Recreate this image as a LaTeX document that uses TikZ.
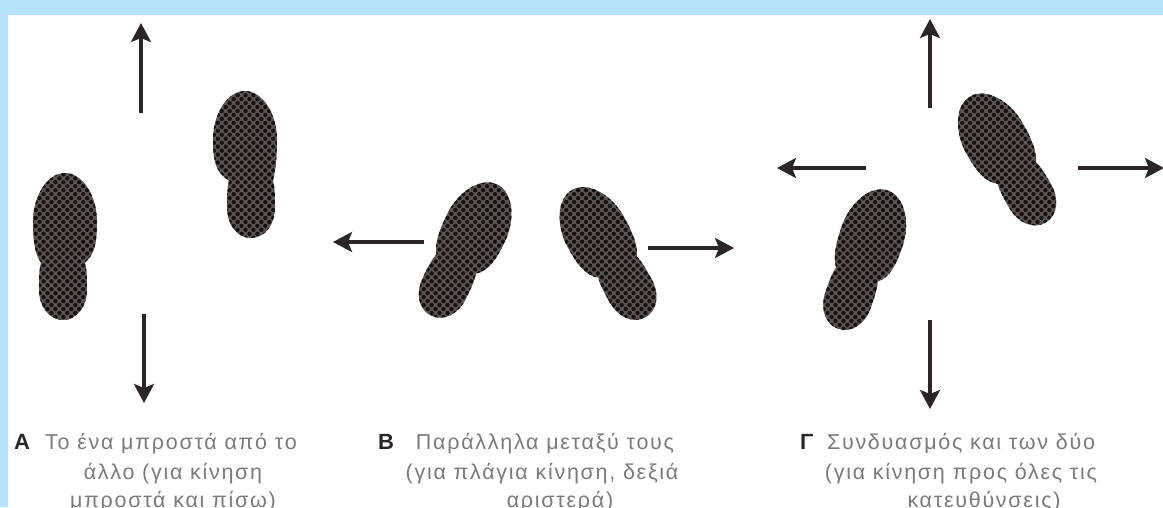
\documentclass[tikz,border=0pt]{standalone}
\usepackage{fontspec}
\setmainfont{Liberation Sans}
\usetikzlibrary{arrows.meta,patterns.meta}
\definecolor{skyband}{HTML}{B5E3FA}
\definecolor{inkdark}{HTML}{2B2527}
\definecolor{soleface}{HTML}{5E5454}
\definecolor{dotink}{HTML}{141213}
\definecolor{capgrey}{HTML}{7A7A7A}
\newfontfamily\capfont[LetterSpace=8]{Liberation Sans}
\tikzset{
  x=1pt,y=-1pt,
  flow/.style={draw=inkdark,line width=3.2pt,-{Stealth[length=19pt,width=20pt,inset=4pt]}},
  capline/.style={inner sep=0pt,text=capgrey,font=\capfont\fontsize{21.5}{23}\selectfont,anchor=base},
  tag/.style={inner sep=0pt,text=inkdark,font=\fontsize{22}{24}\selectfont\bfseries,anchor=base west},
  pics/foot/.style={code={
    \def\outline{(0,-73.5) .. controls (18,-73.5) and (32,-50) .. (32,-25)
      .. controls (32,-5) and (30,8) .. (#1+22,16)
      .. controls (#1+24,24) and (#1+24,32) .. (#1+24,43)
      .. controls (#1+24,60) and (#1+14,73.5) .. (#1,73.5)
      .. controls (#1-14,73.5) and (#1-24,60) .. (#1-24,43)
      .. controls (#1-24,32) and (#1-24,24) .. (#1-22,16)
      .. controls (-30,8) and (-32,-5) .. (-32,-25)
      .. controls (-32,-50) and (-18,-73.5) .. (0,-73.5) -- cycle}
    \fill[soleface] \outline;
    \fill[pattern={Dots[distance=5.6pt,radius=2.2pt,angle=45]},pattern color=dotink] \outline;
  }}
}
\begin{document}
\begin{tikzpicture}
\useasboundingbox (0,0) rectangle (1163,507);
\fill[skyband] (0,0) rectangle (1163,507);
\fill[white] (8,15) rectangle (1163,507);
% feet
\pic at (65,246.5) {foot=-2};
\pic at (245,164.5) {foot=6};
\pic[rotate=-26] at (465,250.5) {foot=-2};
\pic[rotate=29] at (608,254) {foot=2};
\pic[rotate=-19] at (864,260) {foot=-2};
\pic[rotate=30] at (1007,160) {foot=2};
% arrows
\coordinate (aupS) at (141,113); \coordinate (aupE) at (141,23);
\coordinate (adnS) at (144,314); \coordinate (adnE) at (144,403);
\coordinate (blS) at (424,242); \coordinate (blE) at (333,242);
\coordinate (brS) at (648,248); \coordinate (brE) at (734,248);
\coordinate (cupS) at (930,108); \coordinate (cupE) at (930,19);
\coordinate (clS) at (866,168); \coordinate (clE) at (777,168);
\coordinate (crS) at (1078,168); \coordinate (crE) at (1164,168);
\coordinate (cdS) at (930,320); \coordinate (cdE) at (930,409);
\foreach \a/\b in {aupS/aupE,adnS/adnE,blS/blE,brS/brE,cupS/cupE,clS/clE,crS/crE,cdS/cdE}
  \draw[flow] (\a) -- (\b);
% captions
\node[tag] (ta) at (14,449) {A};
\node[capline] (a1) at (171,449) {Το ένα μπροστά από το};
\node[capline] (a2) at (173,479) {άλλο (για κίνηση};
\node[capline] (a3) at (173,507) {μπροστά και πίσω)};
\node[tag] (tb) at (378,449) {B};
\node[capline] (b1) at (545,449) {Παράλληλα μεταξύ τους};
\node[capline] (b2) at (542,479) {(για πλάγια κίνηση, δεξιά};
\node[capline] (b3) at (560,507) {αριστερά)};
\node[tag] (tc) at (800,449) {Γ};
\node[capline] (c1) at (961,449) {Συνδυασμός και των δύο};
\node[capline] (c2) at (961,479) {(για κίνηση προς όλες τις};
\node[capline] (c3) at (984,507) {κατευθύνσεις)};
\end{tikzpicture}
\end{document}
